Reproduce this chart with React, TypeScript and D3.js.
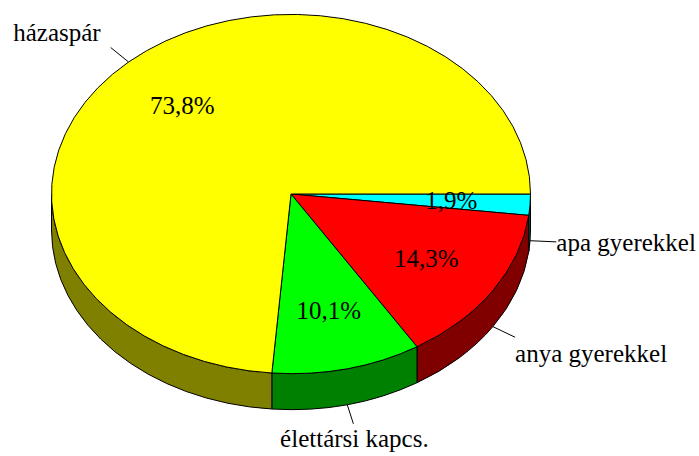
import React, { useEffect, useRef } from "react";
import * as d3 from "d3";

const categories = ["apa gyerekkel", "anya gyerekkel", "élettársi kapcs.", "házaspár"];
const values = [1.9, 14.3, 10.1, 73.8];
const valueLabels = ["1,9%", "14,3%", "10,1%", "73,8%"];
const topColors = ["#00FFFF", "#FF0000", "#00FF00", "#FFFF00"];
const sideColors = ["#008080", "#800000", "#008000", "#808000"];

// label placement relative to leader-line end
const labelLayout = [
  { anchor: "start", dx: 0, dy: 9 },
  { anchor: "start", dx: 0, dy: 25 },
  { anchor: "middle", dx: 1, dy: 23 },
  { anchor: "end", dx: -10, dy: -7 },
];

const W = 699;
const H = 456;
const cx = 291;
const cy = 194;
const rx = 239.5;
const ry = 179.6;
const depth = 36;
const FONT = "Times New Roman";

function pt(a: number, k = 1, dz = 0): [number, number] {
  return [cx + rx * k * Math.sin(a), cy - ry * k * Math.cos(a) + dz];
}

export default function App() {
  const ref = useRef<SVGSVGElement>(null);

  useEffect(() => {
    const svg = d3.select(ref.current);
    svg.selectAll("*").remove();

    const pie = d3
      .pie<number>()
      .sort(null)
      .value((d) => d)
      .startAngle(Math.PI / 2)
      .endAngle(Math.PI / 2 + 2 * Math.PI);
    const arcs = pie(values);

    svg.append("rect").attr("width", W).attr("height", H).attr("fill", "#fff");

    const fronts = [
      [Math.PI / 2, (3 * Math.PI) / 2],
      [Math.PI / 2 + 2 * Math.PI, (3 * Math.PI) / 2 + 2 * Math.PI],
    ];
    arcs.forEach((a, i) => {
      fronts.forEach(([f0, f1]) => {
        const s = Math.max(a.startAngle, f0);
        const e = Math.min(a.endAngle, f1);
        if (e > s) {
          const p0 = pt(s);
          const p1 = pt(e);
          const p2 = pt(e, 1, depth);
          const p3 = pt(s, 1, depth);
          const d = `M${p0[0]},${p0[1]} A${rx},${ry} 0 0 1 ${p1[0]},${p1[1]} L${p2[0]},${p2[1]} A${rx},${ry} 0 0 0 ${p3[0]},${p3[1]} Z`;
          svg
            .append("path")
            .attr("d", d)
            .attr("fill", sideColors[i])
            .attr("stroke", "#000")
            .attr("stroke-width", 1)
            .attr("stroke-linejoin", "round");
        }
      });
    });

    arcs.forEach((a, i) => {
      const p0 = pt(a.startAngle);
      const p1 = pt(a.endAngle);
      const large = a.endAngle - a.startAngle > Math.PI ? 1 : 0;
      svg
        .append("path")
        .attr("d", `M${cx},${cy} L${p0[0]},${p0[1]} A${rx},${ry} 0 ${large} 1 ${p1[0]},${p1[1]} Z`)
        .attr("fill", topColors[i])
        .attr("stroke", "#000")
        .attr("stroke-width", 1)
        .attr("stroke-linejoin", "round");
    });

    arcs.forEach((a, i) => {
      const mid = (a.startAngle + a.endAngle) / 2;
      const [x, y] = pt(mid, 0.67);
      svg
        .append("text")
        .attr("x", x)
        .attr("y", y + 8)
        .attr("text-anchor", "middle")
        .style("font-family", FONT)
        .style("font-size", "25px")
        .attr("fill", "#000")
        .text(valueLabels[i]);
    });

    arcs.forEach((a, i) => {
      const mid = (a.startAngle + a.endAngle) / 2;
      const front = -Math.cos(mid) > 0;
      const dz = front ? depth : 0;
      const [x0, y0] = pt(mid, 1, dz);
      const [x1, y1] = pt(mid, 1.11, dz);
      const L = labelLayout[i];
      svg
        .append("line")
        .attr("x1", x0)
        .attr("y1", y0)
        .attr("x2", x1)
        .attr("y2", y1)
        .attr("stroke", "#000")
        .attr("stroke-width", 1);
      svg
        .append("text")
        .attr("x", x1 + L.dx)
        .attr("y", y1 + L.dy)
        .attr("text-anchor", L.anchor)
        .style("font-family", FONT)
        .style("font-size", "25px")
        .attr("fill", "#000")
        .text(categories[i]);
    });
  }, []);

  return <svg ref={ref} width={W} height={H} style={{ position: "absolute", left: 0, top: 0 }} />;
}
